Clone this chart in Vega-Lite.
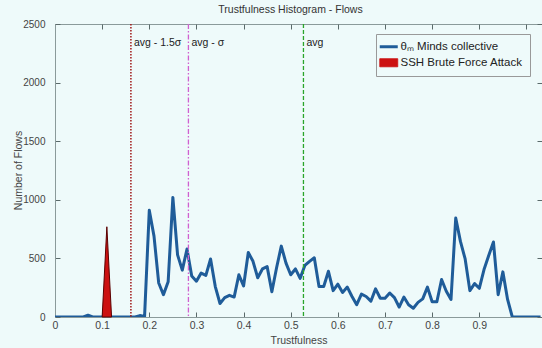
{
  "$schema": "https://vega.github.io/schema/vega-lite/v6.json",
  "width": 487,
  "height": 293,
  "autosize": {"type": "none"},
  "padding": {"left": 55, "top": 24, "right": 0, "bottom": 31},
  "background": "#eefafa",
  "config": {
    "font": "Liberation Sans",
    "view": {"stroke": "#8a9a9a", "strokeWidth": 1, "fill": "#eefafa"},
    "axis": {
      "labelFont": "Liberation Sans",
      "labelFontSize": 10.5,
      "labelColor": "#444",
      "titleFont": "Liberation Sans",
      "titleFontSize": 10.5,
      "titleFontWeight": "normal",
      "titleColor": "#444",
      "domainColor": "#8a9a9a",
      "tickColor": "#5a6a6a",
      "tickSize": -5,
      "ticks": true,
      "grid": false
    }
  },
  "title": {
    "text": "Trustfulness Histogram - Flows",
    "fontSize": 10.5,
    "fontWeight": "normal",
    "color": "#333",
    "font": "Liberation Sans",
    "offset": 4,
    "dx": -8
  },
  "datasets": {
    "flows": [
      {"t": 0.00, "n": 0}, {"t": 0.01, "n": 0}, {"t": 0.02, "n": 0}, {"t": 0.03, "n": 0},
      {"t": 0.04, "n": 0}, {"t": 0.05, "n": 0}, {"t": 0.06, "n": 0}, {"t": 0.07, "n": 15},
      {"t": 0.08, "n": 0}, {"t": 0.09, "n": 0}, {"t": 0.10, "n": 0}, {"t": 0.11, "n": 0},
      {"t": 0.12, "n": 0}, {"t": 0.13, "n": 0}, {"t": 0.14, "n": 0}, {"t": 0.15, "n": 0},
      {"t": 0.16, "n": 0}, {"t": 0.17, "n": 0}, {"t": 0.18, "n": 12}, {"t": 0.19, "n": 5},
      {"t": 0.20, "n": 910}, {"t": 0.21, "n": 690}, {"t": 0.22, "n": 290}, {"t": 0.23, "n": 190},
      {"t": 0.24, "n": 300}, {"t": 0.25, "n": 1020}, {"t": 0.26, "n": 530}, {"t": 0.27, "n": 400},
      {"t": 0.28, "n": 580}, {"t": 0.29, "n": 350}, {"t": 0.30, "n": 305}, {"t": 0.31, "n": 375},
      {"t": 0.32, "n": 355}, {"t": 0.33, "n": 495}, {"t": 0.34, "n": 260}, {"t": 0.35, "n": 115},
      {"t": 0.36, "n": 165}, {"t": 0.37, "n": 185}, {"t": 0.38, "n": 170}, {"t": 0.39, "n": 360},
      {"t": 0.40, "n": 265}, {"t": 0.41, "n": 550}, {"t": 0.42, "n": 475}, {"t": 0.43, "n": 335},
      {"t": 0.44, "n": 410}, {"t": 0.45, "n": 430}, {"t": 0.46, "n": 215}, {"t": 0.47, "n": 420},
      {"t": 0.48, "n": 605}, {"t": 0.49, "n": 460}, {"t": 0.50, "n": 360}, {"t": 0.51, "n": 410},
      {"t": 0.52, "n": 330}, {"t": 0.53, "n": 440}, {"t": 0.54, "n": 475}, {"t": 0.55, "n": 505},
      {"t": 0.56, "n": 260}, {"t": 0.57, "n": 260}, {"t": 0.58, "n": 390}, {"t": 0.59, "n": 225},
      {"t": 0.60, "n": 280}, {"t": 0.61, "n": 210}, {"t": 0.62, "n": 255}, {"t": 0.63, "n": 175},
      {"t": 0.64, "n": 105}, {"t": 0.65, "n": 195}, {"t": 0.66, "n": 175}, {"t": 0.67, "n": 135},
      {"t": 0.68, "n": 240}, {"t": 0.69, "n": 160}, {"t": 0.70, "n": 160}, {"t": 0.71, "n": 205},
      {"t": 0.72, "n": 165}, {"t": 0.73, "n": 85}, {"t": 0.74, "n": 170}, {"t": 0.75, "n": 105},
      {"t": 0.76, "n": 75}, {"t": 0.77, "n": 125}, {"t": 0.78, "n": 155}, {"t": 0.79, "n": 255},
      {"t": 0.80, "n": 130}, {"t": 0.81, "n": 130}, {"t": 0.82, "n": 320}, {"t": 0.83, "n": 220},
      {"t": 0.84, "n": 150}, {"t": 0.85, "n": 845}, {"t": 0.86, "n": 645}, {"t": 0.87, "n": 495},
      {"t": 0.88, "n": 225}, {"t": 0.89, "n": 285}, {"t": 0.90, "n": 245}, {"t": 0.91, "n": 405},
      {"t": 0.92, "n": 525}, {"t": 0.93, "n": 640}, {"t": 0.94, "n": 190}, {"t": 0.95, "n": 385},
      {"t": 0.96, "n": 150}, {"t": 0.97, "n": 0}, {"t": 0.98, "n": 0}, {"t": 0.99, "n": 0},
      {"t": 1.00, "n": 0}, {"t": 1.01, "n": 0}, {"t": 1.02, "n": 0}, {"t": 1.03, "n": 0}
    ],
    "attack": [
      {"t": 0.10, "n": 0}, {"t": 0.11, "n": 770}, {"t": 0.12, "n": 0}
    ],
    "marks": [
      {"x": 0.161, "label": "avg - 1.5σ", "k": "a"},
      {"x": 0.283, "label": "avg - σ", "k": "b"},
      {"x": 0.527, "label": "avg", "k": "c"}
    ]
  },
  "layer": [
    {
      "data": {"name": "flows"},
      "mark": {"type": "line", "strokeWidth": 3, "strokeJoin": "round", "clip": true},
      "encoding": {
        "x": {
          "field": "t", "type": "quantitative",
          "scale": {"domain": [0, 1.033], "nice": false, "zero": false},
          "axis": {"orient": "bottom", "values": [0, 0.1, 0.2, 0.3, 0.4, 0.5, 0.6, 0.7, 0.8, 0.9], "format": "~g", "title": "Trustfulness", "labelPadding": 8, "titlePadding": 5, "labelFlush": false}
        },
        "y": {
          "field": "n", "type": "quantitative",
          "scale": {"domain": [0, 2500], "nice": false},
          "axis": {"orient": "left", "values": [0, 500, 1000, 1500, 2000, 2500], "format": "d", "labelFontSize": 10, "title": "Number of Flows", "labelPadding": 15, "titleX": -37, "titleY": 146, "titleAngle": -90, "titleAlign": "center", "titleBaseline": "middle", "labelFlush": false}
        },
        "color": {
          "datum": "θₘ Minds collective",
          "type": "nominal",
          "scale": {"domain": ["θₘ Minds collective", "SSH Brute Force Attack"], "range": ["#1f5c99", "#cc1111"]},
          "legend": {
            "orient": "none",
            "legendX": 321,
            "legendY": 10,
            "title": null,
            "padding": 7,
            "strokeColor": "#999",
            "fillColor": "#eefafa",
            "labelFont": "Liberation Sans",
            "labelFontSize": 11.5,
            "labelColor": "#222",
            "symbolSize": 324,
            "rowPadding": 3,
            "labelOffset": 6,
            "encode": {
              "symbols": {
                "update": {
                  "shape": {"signal": "datum.value === 'SSH Brute Force Attack' ? 'M-1,-0.45H1V0.45H-1Z' : 'stroke'"},
                  "fill": {"signal": "datum.value === 'SSH Brute Force Attack' ? '#cc1111' : 'transparent'"},
                  "stroke": {"signal": "datum.value === 'SSH Brute Force Attack' ? '#660000' : '#1f5c99'"},
                  "strokeWidth": {"signal": "datum.value === 'SSH Brute Force Attack' ? 0.8 : 3"},
                  "opacity": {"value": 1},
                  "fillOpacity": {"value": 1}
                }
              }
            }
          }
        }
      }
    },
    {
      "data": {"name": "attack"},
      "mark": {"type": "area", "stroke": "#5a0000", "strokeWidth": 1, "opacity": 1},
      "encoding": {
        "x": {
          "field": "t", "type": "quantitative",
          "axis": {"orient": "top", "values": [0, 0.1, 0.2, 0.3, 0.4, 0.5, 0.6, 0.7, 0.8, 0.9, 1.0], "labels": false, "title": null, "domain": false, "ticks": true, "tickSize": -5}
        },
        "y": {
          "field": "n", "type": "quantitative",
          "axis": {"orient": "right", "values": [0, 500, 1000, 1500, 2000, 2500], "labels": false, "title": null, "domain": false, "ticks": true, "tickSize": -5}
        },
        "color": {"datum": "SSH Brute Force Attack", "type": "nominal"}
      }
    },
    {
      "data": {"name": "marks"},
      "transform": [{"filter": "datum.k === 'a'"}],
      "mark": {"type": "rule", "color": "#a01818", "strokeWidth": 1.5, "strokeDash": [1.5, 1.5]},
      "encoding": {"x": {"field": "x", "type": "quantitative", "axis": null}}
    },
    {
      "data": {"name": "marks"},
      "transform": [{"filter": "datum.k === 'b'"}],
      "mark": {"type": "rule", "color": "#d060d0", "strokeWidth": 1.3, "strokeDash": [5, 2, 1.5, 2]},
      "encoding": {"x": {"field": "x", "type": "quantitative", "axis": null}}
    },
    {
      "data": {"name": "marks"},
      "transform": [{"filter": "datum.k === 'c'"}],
      "mark": {"type": "rule", "color": "#2aa52a", "strokeWidth": 1.3, "strokeDash": [4, 2]},
      "encoding": {"x": {"field": "x", "type": "quantitative", "axis": null}}
    },
    {
      "data": {"name": "marks"},
      "mark": {"type": "text", "align": "left", "baseline": "middle", "dx": 3, "fontSize": 10.5, "font": "Liberation Sans", "color": "#222"},
      "encoding": {
        "x": {"field": "x", "type": "quantitative", "axis": null},
        "y": {"datum": 2340, "type": "quantitative", "axis": null},
        "text": {"field": "label"}
      }
    }
  ],
  "resolve": {"axis": {"x": "independent", "y": "independent"}}
}
